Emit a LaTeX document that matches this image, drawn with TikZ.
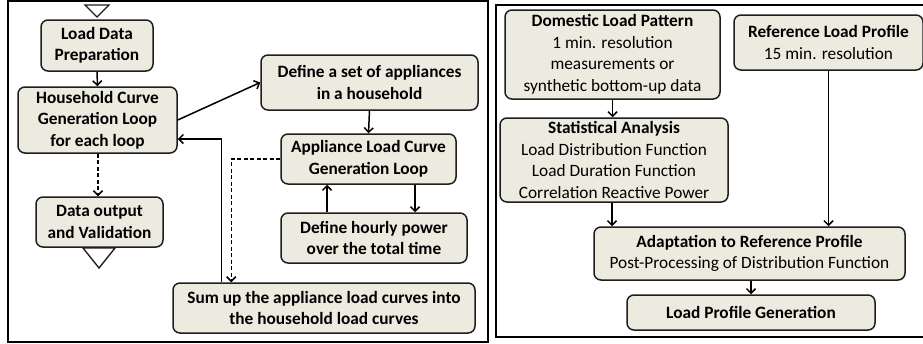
\documentclass[tikz,border=0pt]{standalone}
\usepackage{fontspec}
\setmainfont{Carlito}
\usetikzlibrary{arrows.meta}
\definecolor{boxfill}{HTML}{EDEBE0}
\definecolor{boxline}{HTML}{1E1E1E}
\begin{document}
\begin{tikzpicture}[x=1pt,y=-1pt,
  box/.style={draw=boxline,fill=boxfill,line width=1.5pt,rounded corners=7pt,
    align=center,inner sep=0pt,font=\fontsize{17.3}{21.5}\selectfont},
  conn/.style={line width=1.5pt,draw=black,-{Straight Barb[length=4.5pt,width=9pt]}},
  dconn/.style={conn,dashed,dash pattern=on 4pt off 2.5pt},
  tri/.style={draw=boxline,fill=white,line width=1.4pt,line join=miter}]
\useasboundingbox (0,0) rectangle (923,343);
\fill[white] (0,0) rectangle (923,343);
% panels
\draw[line width=2pt] (8,1) rectangle (488,342);
\draw[line width=1.5pt] (496,5) rectangle (935,337);
% left panel
\node[box,minimum width=112pt,minimum height=51pt] (ldp) at (97,45.5) {\bfseries Load Data\\\bfseries Preparation};
\node[box,minimum width=159pt,minimum height=66pt] (hcg) at (97.5,120) {\bfseries Household Curve\\\bfseries Generation Loop\\\bfseries for each loop};
\node[box,minimum width=127pt,minimum height=50pt] (dov) at (99.5,222) {\bfseries Data output\\\bfseries and Validation};
\node[box,minimum width=217pt,minimum height=55pt] (dsa) at (369.5,82.5) {\bfseries Define a set of appliances\\\bfseries in a household};
\node[box,minimum width=175pt,minimum height=50pt] (alc) at (368.5,159) {\bfseries Appliance Load Curve\\\bfseries Generation Loop};
\node[box,minimum width=186pt,minimum height=50pt] (dhp) at (374,238) {\bfseries Define hourly power\\\bfseries over the total time};
\node[box,minimum width=302pt,minimum height=50pt] (sum) at (324,308) {\bfseries Sum up the appliance load curves into\\\bfseries the household load curves};
% triangles
\draw[tri] (85,5) -- (109,5) -- (97,17) -- cycle;
\draw[tri] (83,248) -- (115,248) -- (99,268) -- cycle;
% left connectors
\draw[conn] (ldp.south) -- (hcg.north);
\draw[conn] (hcg.east) -- (dsa.west);
\draw[conn] (dsa.south) -- (alc.north);
\draw[conn] ([xshift=46.5pt]alc.south) -- ([xshift=46.5pt]alc.south |- dhp.north);
\draw[conn] ([xshift=-41.5pt]alc.south |- dhp.north) -- ([xshift=-41.5pt]alc.south);
\draw[dconn] (alc.west) -| ([xshift=59pt]sum.north west);
\draw[conn] ([xshift=49pt]sum.north west) |- ([yshift=-19pt]hcg.east);
\draw[dconn] ([xshift=0.5pt]hcg.south) -- ([xshift=-1.5pt]dov.north);
% right panel
\node[box,minimum width=215pt,minimum height=89pt] (dlp) at (612.5,54.5) {\bfseries Domestic Load Pattern\\1 min. resolution\\measurements or\\synthetic bottom-up data};
\node[box,minimum width=189pt,minimum height=55pt] (rlp) at (828.5,42.5) {\bfseries Reference Load Profile\\15 min. resolution};
\node[box,minimum width=228pt,minimum height=84pt] (sa) at (614,160) {\bfseries Statistical Analysis\\Load Distribution Function\\Load Duration Function\\Correlation Reactive Power};
\node[box,minimum width=311pt,minimum height=53pt] (atr) at (749.5,253.5) {\bfseries Adaptation to Reference Profile\\Post-Processing of Distribution Function};
\node[box,minimum width=248pt,minimum height=35pt] (lpg) at (751,312.5) {\bfseries Load Profile Generation};
\draw[conn] (dlp.south) -- (dlp.south |- sa.north);
\draw[conn] ([xshift=-2pt]sa.south) -- ([xshift=-2pt]sa.south |- atr.north);
\draw[conn] (rlp.south) -- (rlp.south |- atr.north);
\draw[conn] (atr.south -| lpg.north) -- (lpg.north);
\end{tikzpicture}
\end{document}
